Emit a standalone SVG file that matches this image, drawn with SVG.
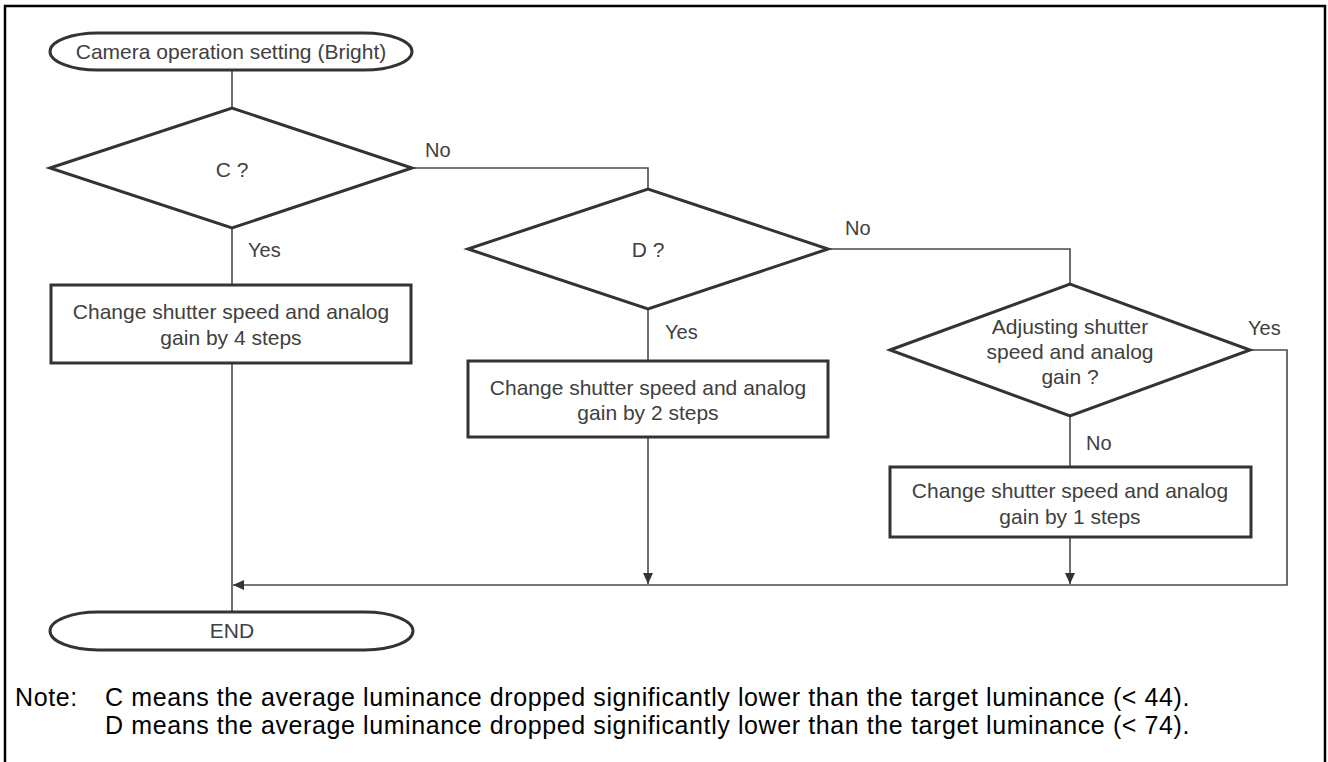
<svg xmlns="http://www.w3.org/2000/svg" width="1328" height="762" viewBox="0 0 1328 762">
<style>
.shape{fill:#fff;stroke:#333;stroke-width:3}
.conn{fill:none;stroke:#4a4a4a;stroke-width:1.6}
.t{font-family:"Liberation Sans",Arial,sans-serif;font-size:21px;fill:#404040;text-anchor:middle}
.lbl{font-family:"Liberation Sans",Arial,sans-serif;font-size:20px;fill:#404040}
.note{font-family:"Liberation Sans",Arial,sans-serif;font-size:25px;letter-spacing:0.6px;fill:#000}
</style>
<defs>
<marker id="arr" markerUnits="userSpaceOnUse" markerWidth="12" markerHeight="10" refX="11" refY="5" orient="auto">
<path d="M0,0 L11,5 L0,10 z" fill="#333"/>
</marker>
</defs>
<rect x="5" y="6" width="1320" height="780" fill="#fff" stroke="#000" stroke-width="2.5"/>
<g id="connectors">
<path class="conn" d="M232,70 V108"/>
<path class="conn" d="M412,168 H648 V189"/>
<path class="conn" d="M232,228 V285"/>
<path class="conn" d="M232,363 V612"/>
<path class="conn" d="M828,249 H1070 V284"/>
<path class="conn" d="M648,309 V361"/>
<path class="conn" d="M648,437 V584" marker-end="url(#arr)"/>
<path class="conn" d="M1070,416 V467"/>
<path class="conn" d="M1070,537 V584" marker-end="url(#arr)"/>
<path class="conn" d="M1250,350 H1287 V585 H233" marker-end="url(#arr)"/>
<text class="lbl" x="425" y="157">No</text>
<text class="lbl" x="248" y="257">Yes</text>
<text class="lbl" x="845" y="235">No</text>
<text class="lbl" x="665" y="339">Yes</text>
<text class="lbl" x="1248" y="335">Yes</text>
<text class="lbl" x="1086" y="450">No</text>
</g>
<g id="start">
<rect class="shape" x="50" y="33" width="362" height="37" rx="48" ry="18.5"/>
<text class="t" x="231" y="59">Camera operation setting (Bright)</text>
</g>
<g id="decisionC">
<polygon class="shape" points="50,168 232,108 412,168 232,228"/>
<text class="t" x="232" y="177">C ?</text>
</g>
<g id="step4">
<rect class="shape" x="51" y="285" width="360" height="78"/>
<text class="t" x="231" y="319">Change shutter speed and analog</text>
<text class="t" x="231" y="345">gain by 4 steps</text>
</g>
<g id="decisionD">
<polygon class="shape" points="468,249 648,189 828,249 648,309"/>
<text class="t" x="648" y="257">D ?</text>
</g>
<g id="step2">
<rect class="shape" x="468" y="361" width="360" height="76"/>
<text class="t" x="648" y="395">Change shutter speed and analog</text>
<text class="t" x="648" y="420">gain by 2 steps</text>
</g>
<g id="decisionAdj">
<polygon class="shape" points="890,350 1070,284 1250,350 1070,416"/>
<text class="t" x="1070" y="334">Adjusting shutter</text>
<text class="t" x="1070" y="359">speed and analog</text>
<text class="t" x="1070" y="384">gain ?</text>
</g>
<g id="step1">
<rect class="shape" x="890" y="467" width="361" height="70"/>
<text class="t" x="1070" y="498">Change shutter speed and analog</text>
<text class="t" x="1070" y="524">gain by 1 steps</text>
</g>
<g id="end">
<rect class="shape" x="50" y="612" width="363" height="38" rx="48" ry="19"/>
<text class="t" x="232" y="638">END</text>
</g>
<g id="note">
<text class="note" x="15" y="706">Note:</text>
<text class="note" x="105" y="706">C means the average luminance dropped significantly lower than the target luminance (&lt; 44).</text>
<text class="note" x="105" y="734">D means the average luminance dropped significantly lower than the target luminance (&lt; 74).</text>
</g>
</svg>
